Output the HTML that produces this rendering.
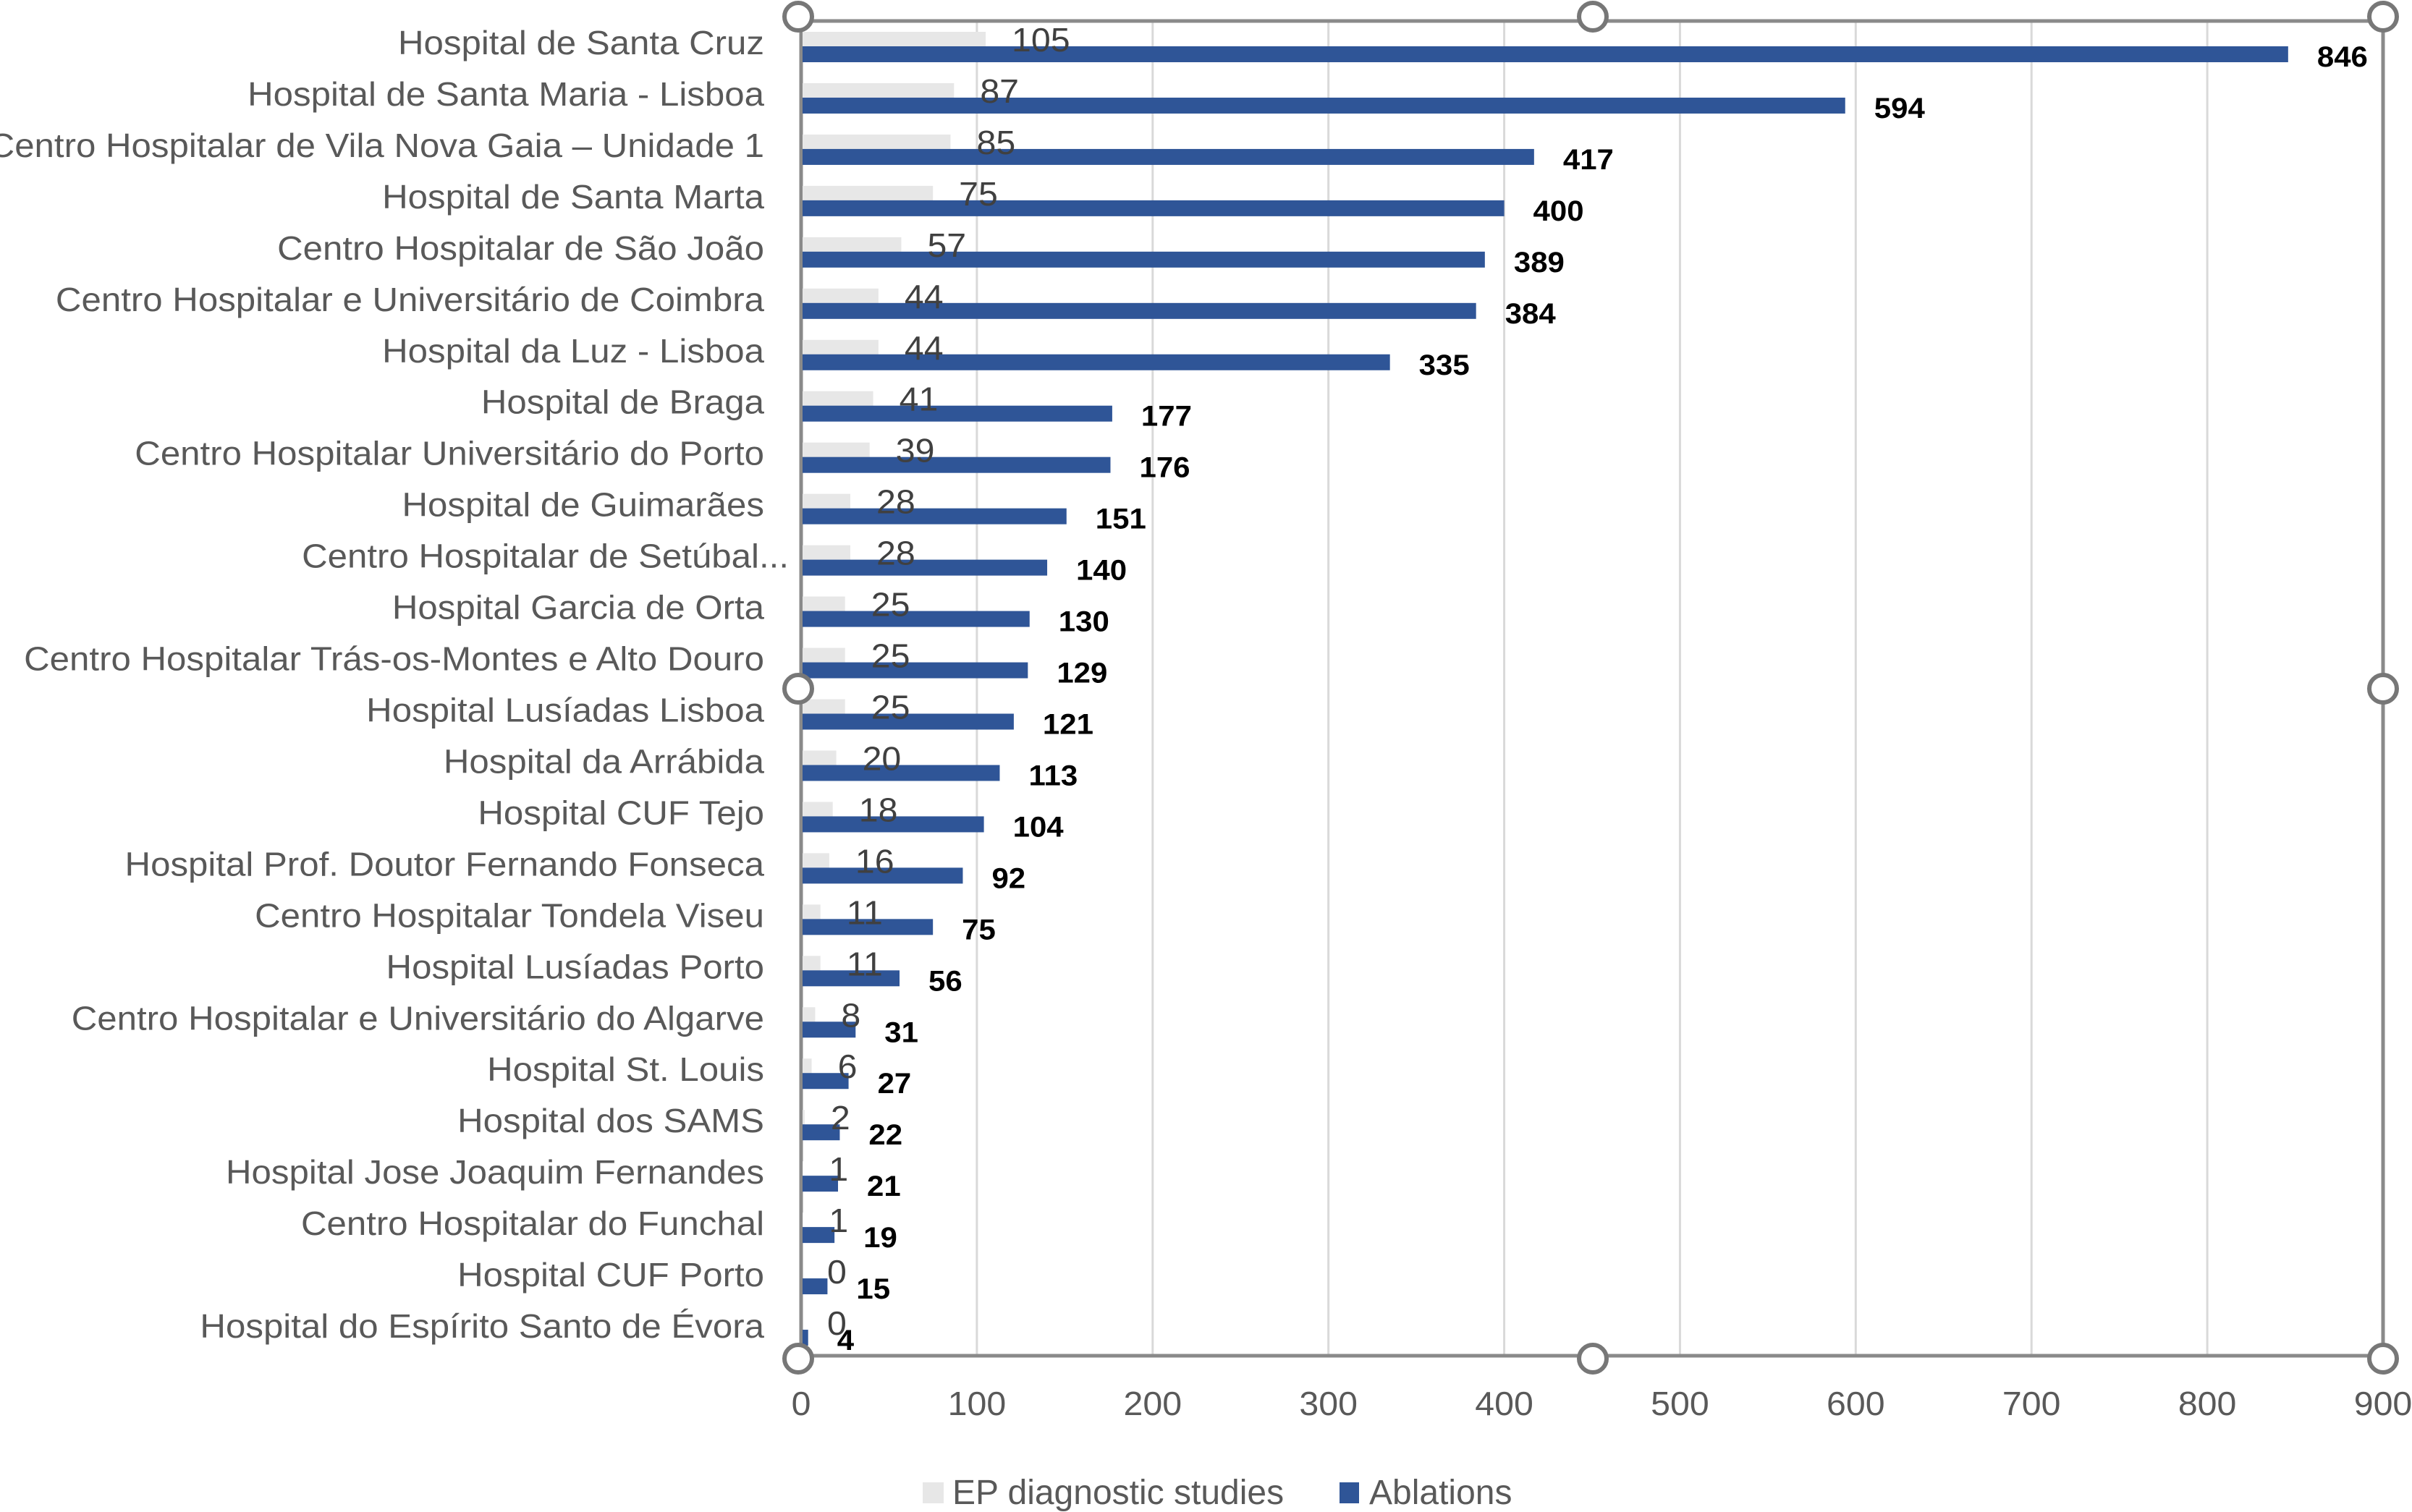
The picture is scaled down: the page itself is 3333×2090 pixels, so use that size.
<!DOCTYPE html>
<html><head><meta charset="utf-8"><style>
html,body{margin:0;padding:0;background:#fff;}
svg{display:block;font-family:"Liberation Sans",sans-serif;}
</style></head><body>
<svg id="chart" width="3333" height="2090" viewBox="0 0 3333 2090" xmlns="http://www.w3.org/2000/svg"></svg>
<script>
const categories = ["Hospital de Santa Cruz","Hospital de Santa Maria - Lisboa","Centro Hospitalar de Vila Nova Gaia – Unidade 1","Hospital de Santa Marta","Centro Hospitalar de São João","Centro Hospitalar e Universitário de Coimbra","Hospital da Luz - Lisboa","Hospital de Braga","Centro Hospitalar Universitário do Porto","Hospital de Guimarães","Centro Hospitalar de Setúbal...","Hospital Garcia de Orta","Centro Hospitalar Trás-os-Montes e Alto Douro","Hospital Lusíadas Lisboa","Hospital da Arrábida","Hospital CUF Tejo","Hospital Prof. Doutor Fernando Fonseca","Centro Hospitalar Tondela Viseu","Hospital Lusíadas Porto","Centro Hospitalar e Universitário do Algarve","Hospital St. Louis","Hospital dos SAMS","Hospital Jose Joaquim Fernandes","Centro Hospitalar do Funchal","Hospital CUF Porto","Hospital do Espírito Santo de Évora"];
const epStudies = [105,87,85,75,57,44,44,41,39,28,28,25,25,25,20,18,16,11,11,8,6,2,1,1,0,0];
const ablations = [846,594,417,400,389,384,335,177,176,151,140,130,129,121,113,104,92,75,56,31,27,22,21,19,15,4];
const xTicks = [0,100,200,300,400,500,600,700,800,900];

const svg = document.getElementById('chart');
const NS = 'http://www.w3.org/2000/svg';
const L = 1107, R = 3293, T = 29, B = 1874, XMAX = 900;
const xs = v => L + (v / XMAX) * (R - L);
const rowH = (B - T) / categories.length;
const yRow = i => T + i * rowH;
function mk(tag, attrs, parent) {
  const e = document.createElementNS(NS, tag);
  for (const k in attrs) e.setAttribute(k, attrs[k]);
  (parent || svg).appendChild(e);
  return e;
}
xTicks.forEach(t => {
  if (t === 0) return;
  const g = mk('line', {x1: xs(t), x2: xs(t), y1: T, y2: B, stroke: '#d9d9d9', 'stroke-width': 3});
  
  
});
const fr = mk('rect', {x: L, y: T, width: R - L, height: B - T, fill: 'none', stroke: '#8a8a8a', 'stroke-width': 5});


categories.forEach((c, i) => {
  const y0 = yRow(i);
  const gb = mk('rect', {x: L, y: y0 + 15, width: xs(epStudies[i]) - L, height: 21, fill: '#e7e7e7'});
  
  
  const bb = mk('rect', {x: L, y: y0 + 35, width: xs(ablations[i]) - L, height: 22, fill: '#2f5597'});
  
  
  const gl = mk('text', {transform: `translate(${xs(epStudies[i]) + 36},${y0 + 42}) scale(1.05,1)`, 'font-size': 46, fill: '#404040'});
  gl.textContent = epStudies[i];
  
  
  const bl = mk('text', {transform: `translate(${xs(ablations[i]) + 40},${y0 + 63}) scale(1.05,1)`, 'font-size': 40, 'font-weight': 'bold', fill: '#000'});
  bl.textContent = ablations[i];
  
  
  const cl = mk('text', {transform: `translate(${c.endsWith('...') ? 1090 : 1056},${y0 + 46}) scale(1.07,1)`, 'font-size': 46, fill: '#595959', 'text-anchor': 'end'});
  cl.textContent = c;
  
  
});
const ax = mk('line', {x1: L, x2: L, y1: T, y2: B, stroke: '#8a8a8a', 'stroke-width': 4});


xTicks.forEach(t => {
  const tl = mk('text', {transform: `translate(${xs(t)},${1956}) scale(1.05,1)`, 'font-size': 46, fill: '#595959', 'text-anchor': 'middle'});
  tl.textContent = t;
  
  
});
[[1103,23],[2201,23],[3293,23],[1103,952],[3293,952],[1103,1878],[2201,1878],[3293,1878]].forEach(p => {
  const h = mk('circle', {cx: p[0], cy: p[1], r: 19, fill: '#fff', stroke: '#777', 'stroke-width': 6});
  
  
});
const lg = mk('g', {});


const s1 = mk('rect', {x: 1275, y: 2049, width: 29, height: 29, fill: '#e7e7e7'}, lg);


const t1 = mk('text', {transform: 'translate(1316,2079) scale(1.0,1)', 'font-size': 48, fill: '#595959'}, lg);
t1.textContent = 'EP diagnostic studies';


const s2 = mk('rect', {x: 1851, y: 2049, width: 27, height: 29, fill: '#2f5597'}, lg);


const t2 = mk('text', {transform: 'translate(1892,2079) scale(1.0,1)', 'font-size': 48, fill: '#595959'}, lg);
t2.textContent = 'Ablations';


</script>
</body></html>
